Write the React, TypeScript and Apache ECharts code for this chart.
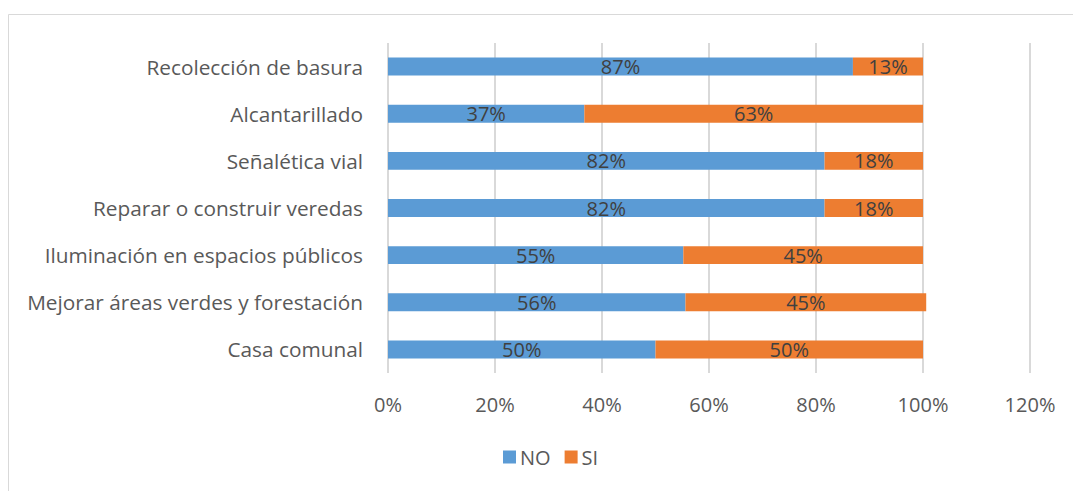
import React, { useEffect, useRef } from "react";
import * as echarts from "echarts";

const categories = [
  "Casa comunal",
  "Mejorar áreas verdes y forestación",
  "Iluminación en espacios públicos",
  "Reparar o construir veredas",
  "Señalética vial",
  "Alcantarillado",
  "Recolección de basura",
];
const noValues = [50, 55.6, 55.2, 81.6, 81.6, 36.7, 86.9];
const siValues = [50, 45, 44.8, 18.4, 18.4, 63.3, 13.1];
const xTicks = [0, 20, 40, 60, 80, 100, 120];

const FONT = "'Open Sans', 'Noto Sans', sans-serif";

export default function App() {
  const ref = useRef<HTMLDivElement>(null);
  useEffect(() => {
    if (!ref.current) return;
    const chart = echarts.init(ref.current, undefined, { renderer: "svg" });
    const labelCfg = {
      show: true,
      position: "inside",
      color: "#404040",
      fontSize: 20,
      fontFamily: FONT,
      formatter: (p: any) => Math.round(p.value) + "%",
    };
    chart.setOption({
      animation: false,
      backgroundColor: "#ffffff",
      textStyle: { fontFamily: FONT },
      graphic: [
        {
          type: "rect",
          shape: { x: 8.5, y: 14.5, width: 1080, height: 490 },
          style: { fill: "none", stroke: "#d9d9d9", lineWidth: 1 },
          silent: true,
        },
      ],
      grid: { left: 388, top: 43, width: 642, height: 330, containLabel: false },
      legend: {
        data: ["NO", "SI"],
        top: 442,
        left: 498,
        itemWidth: 13,
        itemHeight: 13,
        itemGap: 14,
        icon: "rect",
        textStyle: { color: "#595959", fontSize: 20, fontFamily: FONT, padding: [0, 0, 0, -1] },
      },
      xAxis: {
        type: "value",
        min: xTicks[0],
        max: xTicks[xTicks.length - 1],
        interval: 20,
        axisLine: { show: false },
        axisTick: { show: false },
        splitLine: { show: true, lineStyle: { color: "#d9d9d9", width: 2 } },
        axisLabel: {
          color: "#595959",
          fontSize: 20,
          fontFamily: FONT,
          margin: 21,
          formatter: (v: number) => v + "%",
        },
      },
      yAxis: {
        type: "category",
        data: categories,
        axisLine: { show: false },
        axisTick: { show: false },
        axisLabel: { color: "#595959", fontSize: 20.8, fontFamily: FONT, margin: 25 },
      },
      series: [
        {
          name: "NO",
          type: "bar",
          stack: "total",
          data: noValues,
          barWidth: "38%",
          itemStyle: { color: "#5b9bd5" },
          label: labelCfg,
        },
        {
          name: "SI",
          type: "bar",
          stack: "total",
          data: siValues,
          barWidth: "38%",
          itemStyle: { color: "#ed7d31" },
          label: labelCfg,
        },
      ],
    });
    return () => chart.dispose();
  }, []);
  return (
    <div
      ref={ref}
      style={{ position: "fixed", left: 0, top: 0, width: 1073, height: 491 }}
    />
  );
}
